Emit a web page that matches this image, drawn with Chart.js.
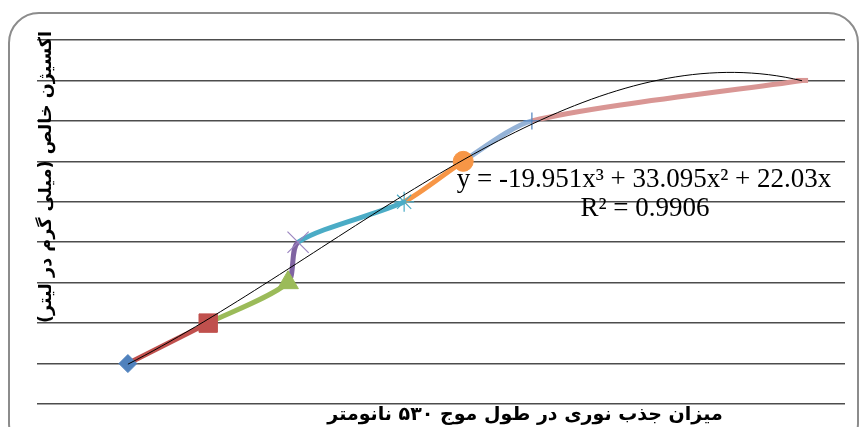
<!DOCTYPE html>
<html>
<head>
<meta charset="utf-8">
<script src="https://cdn.jsdelivr.net/npm/chart.js@4.4.1/dist/chart.umd.min.js"></script>
<style>
  html, body { margin: 0; padding: 0; background: #fff; }
  #wrap { width: 860px; height: 427px; }
</style>
</head>
<body>
<div id="wrap"><canvas id="chart" width="860" height="427"></canvas></div>
<script>
// absorbance at 530 nm vs. pure oxygen (mg/L)
const absorbance = [0.18, 0.339, 0.497, 0.517, 0.727, 0.844, 0.98, 1.515];
const oxygen = [5, 10, 15, 20, 25, 30, 35, 40];

// cubic trendline shown on the chart: y = a x^3 + b x^2 + c x
const trendCoef = [-19.951, 33.095, 22.03];
const trendText = ["y = -19.951x³ + 33.095x² + 22.03x", "R² = 0.9906"];

const xTitle = "میزان جذب نوری در طول موج ۵۳۰ نانومتر";
const yTitle = "اکسیژن خالص (میلی گرم در لیتر)";

// one colour per point (Excel "vary colours by point")
const markerColors = ['#4F81BD', '#C0504D', '#9BBB59', '#9B85C0', '#4BACC6', '#F79646', '#4F81BD', '#D99694'];
const segColors = ['#C0504D', '#C0504D', '#9BBB59', '#8064A2', '#4BACC6', '#F79646', '#95B3D7', '#D99694'];
const markerStyles = ['rectRot', 'rect', 'triangle', 'crossRot', 'star', 'circle', 'cross', 'line'];
const markerSizes = [9, 13, 12, 15, 10, 10, 8.5, 6];
const markerBorder = [1, 1, 1, 1.2, 1.2, 1, 1.2, 5];

const points = absorbance.map((x, i) => ({ x: x, y: oxygen[i] }));

const trendPts = [];
const x0 = absorbance[0], x1 = absorbance[absorbance.length - 1];
for (let i = 0; i <= 80; i++) {
    const x = x0 + (x1 - x0) * i / 80;
    trendPts.push({ x: x, y: trendCoef[0] * x * x * x + trendCoef[1] * x * x + trendCoef[2] * x });
}

// pick a font size so the text spans about `width` pixels
function fitFont(ctx, text, width, weight, family) {
    ctx.font = weight + ' 20px ' + family;
    const size = 20 * width / ctx.measureText(text).width;
    ctx.font = weight + ' ' + size.toFixed(1) + 'px ' + family;
}

const decor = {
    id: 'decor',
    beforeDraw(chart) {
        const ctx = chart.ctx;
        ctx.save();
        ctx.strokeStyle = '#8c8c8c';
        ctx.lineWidth = 2;
        ctx.beginPath();
        ctx.roundRect(9, 13, 849, 440, 30);
        ctx.stroke();
        ctx.restore();
    },
    afterDraw(chart) {
        const ctx = chart.ctx;
        ctx.save();
        ctx.fillStyle = '#000';
        ctx.textAlign = 'center';
        ctx.textBaseline = 'alphabetic';
        ctx.font = '27px "Liberation Serif", "Times New Roman", serif';
        ctx.fillText(trendText[0], 644, 187);
        ctx.fillText(trendText[1], 645, 216);

        ctx.direction = 'rtl';
        const fam = '"DejaVu Sans", sans-serif';
        fitFont(ctx, xTitle, 395, 'bold', fam);
        ctx.fillText(xTitle, 525, 420);

        fitFont(ctx, yTitle, 292, 'bold', fam);
        ctx.translate(51, 177);
        ctx.rotate(-Math.PI / 2);
        ctx.fillText(yTitle, 0, 0);
        ctx.restore();
    }
};

new Chart(document.getElementById('chart'), {
    type: 'scatter',
    data: {
        datasets: [
            {
                label: 'trend',
                data: trendPts,
                showLine: true,
                borderColor: '#000',
                borderWidth: 1,
                pointRadius: 0,
                tension: 0
            },
            {
                label: 'oxygen',
                data: points,
                showLine: true,
                tension: 0.25,
                borderWidth: 5,
                borderColor: '#C0504D',
                segment: {
                    borderColor: c => segColors[c.p1DataIndex]
                },
                pointStyle: markerStyles,
                pointRadius: markerSizes,
                pointHoverRadius: markerSizes,
                pointBackgroundColor: markerColors,
                pointBorderColor: markerColors,
                pointBorderWidth: markerBorder
            }
        ]
    },
    options: {
        responsive: false,
        devicePixelRatio: 1,
        animation: false,
        layout: { padding: { left: 37, top: 40, right: 15, bottom: 23 } },
        plugins: {
            legend: { display: false },
            tooltip: { enabled: false }
        },
        scales: {
            x: {
                type: 'linear',
                min: 0,
                max: 1.6,
                grid: { display: false, drawTicks: false },
                border: { display: false },
                ticks: { display: false }
            },
            y: {
                type: 'linear',
                min: 0,
                max: 45,
                ticks: { display: false, stepSize: 5 },
                grid: { color: '#4d4d4d', lineWidth: 1.5, drawTicks: false },
                border: { display: false }
            }
        }
    },
    plugins: [decor]
});
</script>
</body>
</html>
